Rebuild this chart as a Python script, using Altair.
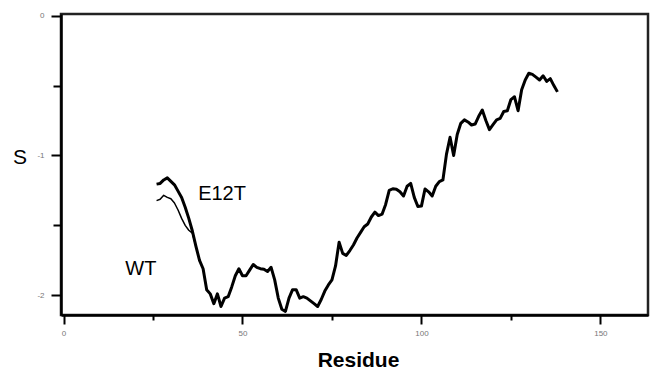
import altair as alt
import pandas as pd

# E12T (thick line), residues 26..138
e12t_res = list(range(26, 139))
e12t_s = [
    -1.205, -1.20, -1.175, -1.16, -1.185, -1.21, -1.255, -1.30, -1.37, -1.45,
    -1.54, -1.65, -1.75, -1.81, -1.96, -1.99, -2.06, -1.99, -2.08, -2.02,
    -2.01, -1.94, -1.86, -1.81, -1.86, -1.86, -1.82, -1.78, -1.80, -1.81,
    -1.814, -1.83, -1.80, -1.89, -2.02, -2.10, -2.115, -2.02, -1.96, -1.96,
    -2.02, -2.01, -2.02, -2.04, -2.06, -2.08, -2.03, -1.97, -1.926, -1.89,
    -1.79, -1.62, -1.70, -1.715, -1.68, -1.64, -1.59, -1.55, -1.51, -1.49,
    -1.44, -1.405, -1.43, -1.42, -1.35, -1.25, -1.238, -1.242, -1.26, -1.29,
    -1.22, -1.20, -1.30, -1.365, -1.362, -1.24, -1.26, -1.29, -1.22, -1.187,
    -1.175, -0.99, -0.87, -1.00, -0.85, -0.77, -0.745, -0.76, -0.782, -0.775,
    -0.72, -0.675, -0.75, -0.815, -0.78, -0.745, -0.735, -0.685, -0.68, -0.60,
    -0.58, -0.68, -0.53, -0.46, -0.412, -0.42, -0.44, -0.46, -0.43, -0.47,
    -0.45, -0.50, -0.545,
]

# WT (thin line), residues 26..37 (merges with E12T afterwards)
wt_res = list(range(26, 38))
wt_s = [-1.323, -1.313, -1.285, -1.30, -1.31, -1.34, -1.39, -1.45, -1.50, -1.535, -1.555, -1.65]

# Annotation labels
label_text = ["E12T", "WT"]
label_res = [44.3, 21.6]
label_s = [-1.279, -1.812]

x_major = [0, 50, 100, 150]
x_minor = [25, 75, 125]
y_major = [0, -1, -2]
y_minor = [-0.5, -1.5]

e12t_df = pd.DataFrame({"Residue": e12t_res, "S": e12t_s})
wt_df = pd.DataFrame({"Residue": wt_res, "S": wt_s})
lab_df = pd.DataFrame({"Residue": label_res, "S": label_s, "t": label_text})

FONT = "Liberation Sans"
xscale = alt.Scale(domain=[-0.7, 163.3], nice=False, zero=False)
yscale = alt.Scale(domain=[-2.141, 0.012], nice=False, zero=False)

common_axis = dict(grid=False, domainColor="black", tickColor="black",
                   labelColor="#777777", labelFont=FONT, labelFontSize=8)

x_major_axis = alt.Axis(values=x_major, orient="bottom", domainWidth=2.5, tickWidth=2,
                        tickSize=9, labelPadding=5, labelExpr="'' + datum.value",
                        title="Residue", titleFont=FONT, titleFontSize=21,
                        titleFontWeight="bold", titleColor="black",
                        titleX=297, titleY=51, titleBaseline="alphabetic",
                        titleAlign="center", **common_axis)
x_minor_axis = alt.Axis(values=x_minor, orient="bottom", domain=False, tickWidth=2,
                        tickSize=5, labels=False, title=None, grid=False, tickColor="black")

y_major_axis = alt.Axis(values=y_major, orient="left", domainWidth=2.5, tickWidth=2,
                        tickSize=10, labelPadding=7, labelExpr="'' + datum.value",
                        title="S", titleFont=FONT, titleFontSize=21,
                        titleFontWeight="normal", titleColor="black", titleAngle=0,
                        titleX=-41.5, titleY=149, titleBaseline="alphabetic",
                        titleAlign="center", **common_axis)
y_minor_axis = alt.Axis(values=y_minor, orient="left", domain=False, tickWidth=2,
                        tickSize=8, labels=False, title=None, grid=False, tickColor="black")

e12t_line = alt.Chart(e12t_df).mark_line(color="black", strokeWidth=3, strokeJoin="round").encode(
    x=alt.X("Residue:Q", scale=xscale, axis=x_major_axis),
    y=alt.Y("S:Q", scale=yscale, axis=y_major_axis),
)

wt_line = alt.Chart(wt_df).mark_line(color="black", strokeWidth=1.5, strokeJoin="round").encode(
    x=alt.X("Residue:Q", scale=xscale, axis=x_minor_axis),
    y=alt.Y("S:Q", scale=yscale, axis=y_minor_axis),
)

labels = alt.Chart(lab_df).mark_text(font=FONT, fontSize=20, color="black",
                                     align="center", baseline="middle").encode(
    x=alt.X("Residue:Q", scale=xscale, axis=None),
    y=alt.Y("S:Q", scale=yscale, axis=None),
    text="t:N",
)

chart = alt.layer(e12t_line, wt_line, labels).resolve_axis(
    x="independent", y="independent"
).properties(
    width=587, height=301,
    autosize=alt.AutoSizeParams(type="none"),
    padding={"left": 61, "top": 14, "right": 4, "bottom": 57},
    background="white",
).configure_view(stroke="#222222", strokeWidth=2.5)

chart.save("out.html", embed_options={"renderer": "svg", "actions": False})
